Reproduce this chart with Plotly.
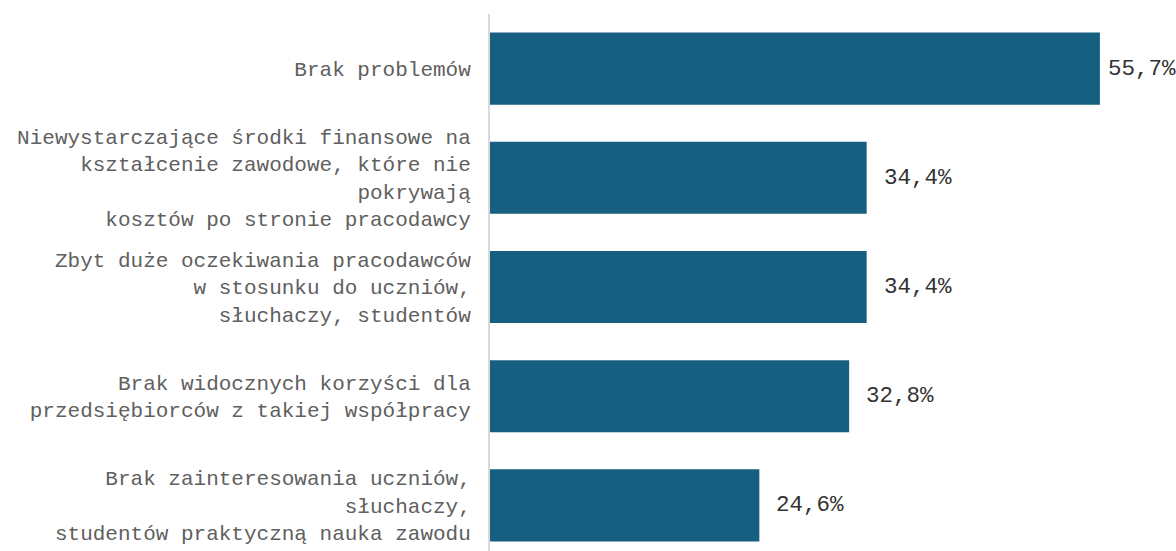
import plotly.graph_objects as go

categories = [
    "Brak problemów",
    "Niewystarczające środki finansowe na<br>kształcenie zawodowe, które nie<br>pokrywają<br>kosztów po stronie pracodawcy",
    "Zbyt duże oczekiwania pracodawców<br>w stosunku do uczniów,<br>słuchaczy, studentów",
    "Brak widocznych korzyści dla<br>przedsiębiorców z takiej współpracy",
    "Brak zainteresowania uczniów,<br>słuchaczy,<br>studentów praktyczną nauka zawodu",
]
values = [55.7, 34.4, 34.4, 32.8, 24.6]
value_labels = ["55,7%", "34,4%", "34,4%", "32,8%", "24,6%"]

# the plot area runs slightly past the bottom of the visible window, as in the reference
W, H = 1176, 560
ML, MR, MT, MB = 490, 0, 14, 0
XMAX = 62.65
FONT = "Courier New, Liberation Mono, monospace"
VAL_SIZE = 22.5

fig = go.Figure()
fig.add_trace(go.Bar(
    y=categories, x=values, orientation="h",
    marker=dict(color="#175f80", line=dict(width=0)),
    hoverinfo="skip",
))

plot_w = W - ML - MR
scale = plot_w / XMAX
annotations = []
for c, v, t in zip(categories, values, value_labels):
    text_w = len(t) * 0.6 * VAL_SIZE
    room = (XMAX - v) * scale - text_w - 3
    shift = max(2, min(15, room))
    annotations.append(dict(
        x=v, y=c, xref="x", yref="y", text=t, showarrow=False,
        xanchor="left", yanchor="middle", xshift=shift,
        font=dict(family=FONT, size=VAL_SIZE, color="#333333"),
    ))

fig.update_layout(
    width=W, height=H,
    margin=dict(l=ML, r=MR, t=MT, b=MB, pad=0),
    paper_bgcolor="white", plot_bgcolor="white",
    bargap=0.34,
    showlegend=False,
    annotations=annotations,
    xaxis=dict(range=[0, XMAX], visible=False, fixedrange=True),
    yaxis=dict(
        autorange="reversed", showline=True, linecolor="#d9d9d9", linewidth=2,
        showgrid=False, zeroline=False, ticks="", ticklabelstandoff=13,
        tickfont=dict(family=FONT, size=21, color="#606060"),
    ),
)

fig.write_html(
    "out.html",
    config={"displayModeBar": False},
    post_script="document.body.style.margin='0';document.body.style.overflow='hidden';",
)
